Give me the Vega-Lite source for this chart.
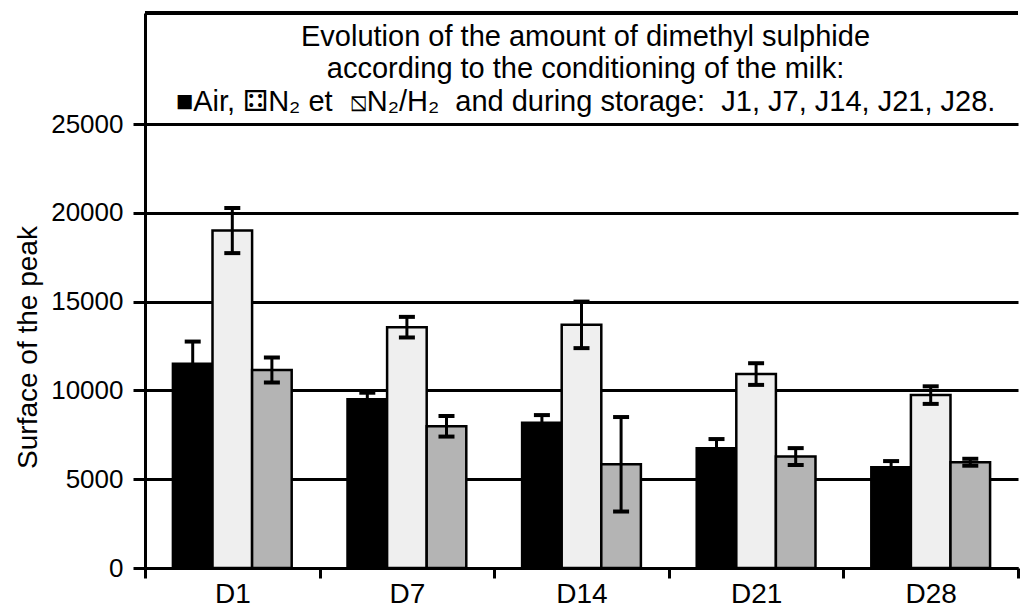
{
  "$schema": "https://vega.github.io/schema/vega-lite/v6.json",
  "autosize": "none",
  "width": 873,
  "height": 555,
  "padding": {"left": 145, "top": 13, "right": 2, "bottom": 47},
  "background": "white",
  "config": {
    "view": {"stroke": null},
    "font": "Liberation Sans, Arial, sans-serif",
    "axis": {
      "domainColor": "black",
      "domainWidth": 3,
      "tickColor": "black",
      "tickWidth": 3,
      "labelColor": "black",
      "titleColor": "black",
      "labelFont": "Liberation Sans, Arial, sans-serif",
      "titleFont": "Liberation Sans, Arial, sans-serif"
    }
  },
  "title": {
    "text": [
      "Evolution of the amount of dimethyl sulphide",
      "according to the conditioning of the milk:",
      "■Air, ⚃N₂ et\u00a0\u00a0⧅N₂/H₂\u00a0\u00a0and during storage:\u00a0\u00a0J1, J7, J14, J21, J28."
    ],
    "anchor": "middle",
    "frame": "group",
    "orient": "top",
    "baseline": "top",
    "offset": 0,
    "dy": 105,
    "dx": 4,
    "fontSize": 29,
    "fontWeight": "normal",
    "lineHeight": 32.5,
    "color": "black",
    "font": "Liberation Sans, Arial, sans-serif"
  },
  "data": {
    "values": [
      {"day": "D1", "cond": "Air", "value": 11500, "lo": 10250, "hi": 12750},
      {"day": "D1", "cond": "N2", "value": 19000, "lo": 17730, "hi": 20270},
      {"day": "D1", "cond": "N2/H2", "value": 11150, "lo": 10450, "hi": 11850},
      {"day": "D7", "cond": "Air", "value": 9500, "lo": 9130, "hi": 9870},
      {"day": "D7", "cond": "N2", "value": 13550, "lo": 12980, "hi": 14140},
      {"day": "D7", "cond": "N2/H2", "value": 7980, "lo": 7400, "hi": 8560},
      {"day": "D14", "cond": "Air", "value": 8180, "lo": 7750, "hi": 8610},
      {"day": "D14", "cond": "N2", "value": 13700, "lo": 12380, "hi": 15000},
      {"day": "D14", "cond": "N2/H2", "value": 5840, "lo": 3180, "hi": 8500},
      {"day": "D21", "cond": "Air", "value": 6740, "lo": 6220, "hi": 7260},
      {"day": "D21", "cond": "N2", "value": 10920, "lo": 10310, "hi": 11530},
      {"day": "D21", "cond": "N2/H2", "value": 6280, "lo": 5800, "hi": 6750},
      {"day": "D28", "cond": "Air", "value": 5670, "lo": 5320, "hi": 6020},
      {"day": "D28", "cond": "N2", "value": 9740, "lo": 9240, "hi": 10230},
      {"day": "D28", "cond": "N2/H2", "value": 5950, "lo": 5760, "hi": 6150}
    ]
  },
  "layer": [
    {
      "encoding": {
        "x": {
          "field": "day",
          "type": "nominal",
          "sort": ["D1", "D7", "D14", "D21", "D28"],
          "scale": {"paddingInner": 0, "paddingOuter": 0},
          "axis": {
            "title": null,
            "labelAngle": 0,
            "labelFontSize": 28,
            "labelPadding": 2,
            "tickBand": "extent",
            "tickSize": 10,
            "grid": false
          }
        },
        "xOffset": {
          "field": "cond",
          "type": "nominal",
          "sort": ["Air", "N2", "N2/H2"],
          "scale": {"paddingInner": 0, "paddingOuter": 0.705}
        }
      },
      "layer": [
        {
          "mark": {"type": "bar", "stroke": "black", "strokeWidth": 2.5},
          "encoding": {
            "y": {
              "field": "value",
              "type": "quantitative",
              "scale": {"domain": [0, 31250], "nice": false, "zero": true},
              "axis": {
                "title": "Surface of the peak",
                "titleFontSize": 28,
                "titleFontWeight": "normal",
                "titlePadding": 8,
                "titleY": 334,
                "values": [0, 5000, 10000, 15000, 20000, 25000],
                "format": "d",
                "labelFontSize": 26,
                "labelPadding": 10,
                "tickSize": 12,
                "grid": true,
                "gridColor": "black",
                "gridWidth": 3,
                "gridOpacity": 1
              }
            },
            "fill": {
              "field": "cond",
              "type": "nominal",
              "scale": {"domain": ["Air", "N2", "N2/H2"], "range": ["black", "#efefef", "#b4b4b4"]},
              "legend": null
            }
          }
        },
        {
          "mark": {"type": "rule", "color": "black", "strokeWidth": 3},
          "encoding": {
            "y": {"field": "lo", "type": "quantitative"},
            "y2": {"field": "hi"}
          }
        },
        {
          "mark": {"type": "tick", "orient": "horizontal", "color": "black", "opacity": 1, "size": 16, "thickness": 4},
          "encoding": {"y": {"field": "hi", "type": "quantitative"}}
        },
        {
          "mark": {"type": "tick", "orient": "horizontal", "color": "black", "opacity": 1, "size": 16, "thickness": 4},
          "encoding": {"y": {"field": "lo", "type": "quantitative"}}
        }
      ]
    },
    {
      "mark": {"type": "rule", "color": "black", "strokeWidth": 3},
      "encoding": {"y": {"datum": 31250, "type": "quantitative"}}
    }
  ]
}
